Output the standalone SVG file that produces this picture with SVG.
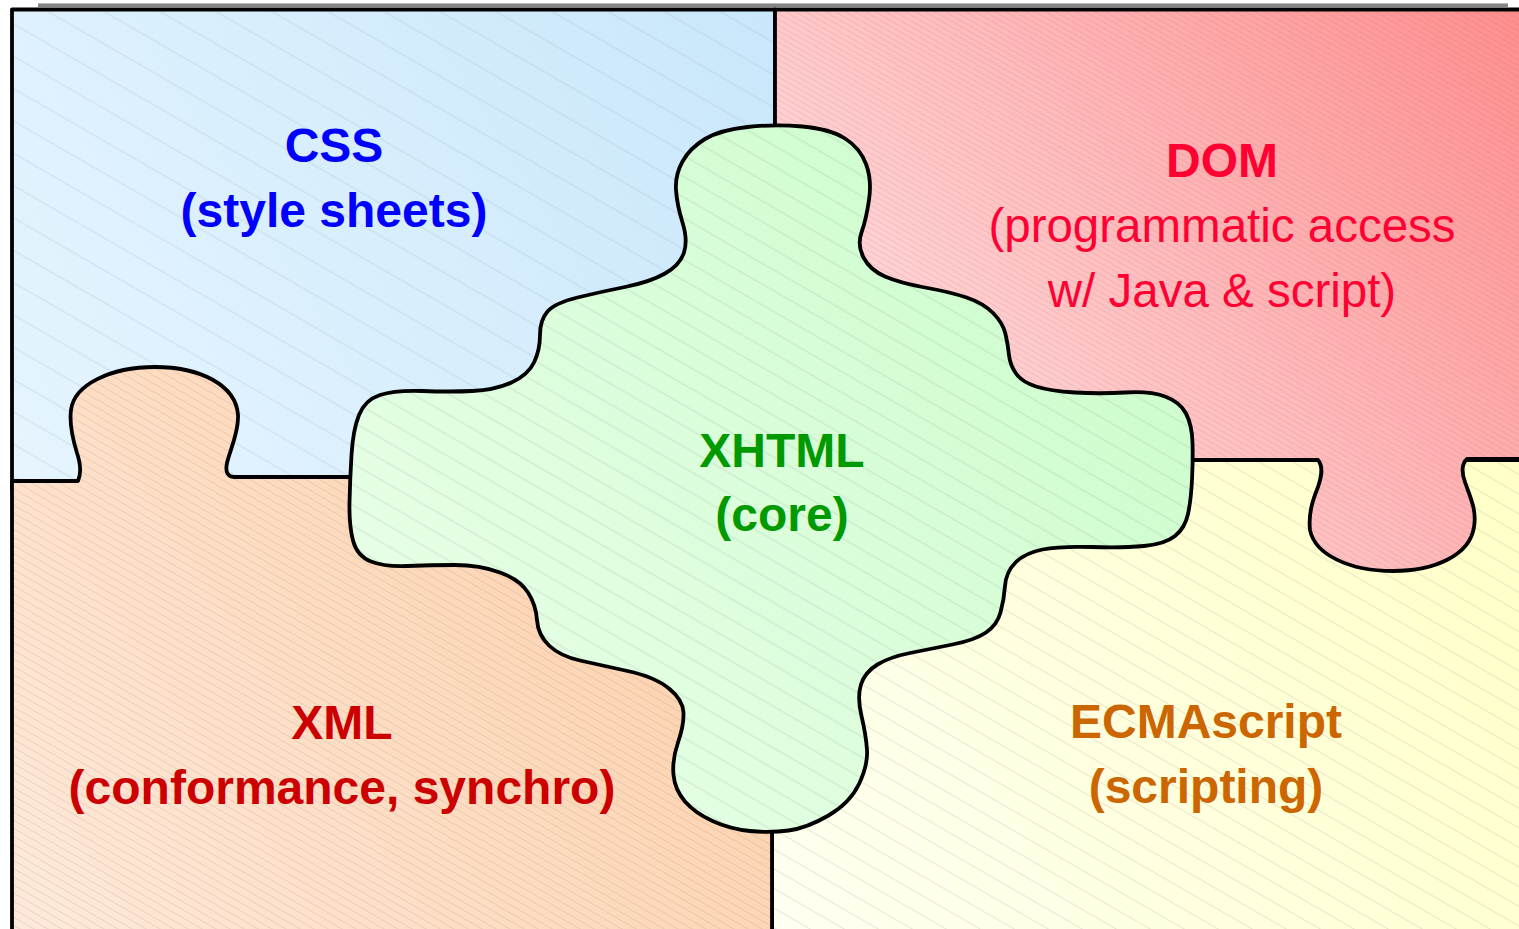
<svg xmlns="http://www.w3.org/2000/svg" width="1519" height="929" viewBox="0 0 1519 929">
<style>
  .edge{fill:none;stroke:#000;stroke-width:3.8;stroke-linejoin:round;stroke-linecap:round}
  .lbl{font-family:"Liberation Sans",Arial,Helvetica,sans-serif;font-size:47.5px;text-anchor:middle}
  .bold{font-weight:bold;font-size:48px}
</style>
<defs>
  <!-- piece fills: soft diagonal gradients -->
  <linearGradient id="g-blue" gradientUnits="userSpaceOnUse" x1="12" y1="480" x2="775" y2="10">
    <stop offset="0" stop-color="#e6f5fe"/><stop offset="1" stop-color="#c9e7fb"/>
  </linearGradient>
  <linearGradient id="g-red" gradientUnits="userSpaceOnUse" x1="900" y1="520" x2="1519" y2="10">
    <stop offset="0" stop-color="#ffe0e2"/><stop offset="1" stop-color="#ff8e8e"/>
  </linearGradient>
  <linearGradient id="g-orange" gradientUnits="userSpaceOnUse" x1="12" y1="929" x2="772" y2="420">
    <stop offset="0" stop-color="#fee9da"/><stop offset="1" stop-color="#fccda5"/>
  </linearGradient>
  <linearGradient id="g-yellow" gradientUnits="userSpaceOnUse" x1="772" y1="929" x2="1519" y2="460">
    <stop offset="0" stop-color="#fffff2"/><stop offset="1" stop-color="#ffffc6"/>
  </linearGradient>
  <linearGradient id="g-green" gradientUnits="userSpaceOnUse" x1="349" y1="833" x2="1193" y2="124">
    <stop offset="0" stop-color="#ecffec"/><stop offset="1" stop-color="#c8fcc8"/>
  </linearGradient>

  <!-- fine diagonal hatching, one density per piece -->
  <pattern id="h-blue" patternUnits="userSpaceOnUse" width="28" height="28" patternTransform="rotate(30)">
    <line x1="0" y1="14" x2="28" y2="14" stroke="#7f8f9c" stroke-opacity="0.28" stroke-width="0.8"/>
  </pattern>
  <pattern id="h-red" patternUnits="userSpaceOnUse" width="5" height="5" patternTransform="rotate(30)">
    <line x1="0" y1="2.5" x2="5" y2="2.5" stroke="#a06060" stroke-opacity="0.22" stroke-width="0.7"/>
  </pattern>
  <pattern id="h-orange" patternUnits="userSpaceOnUse" width="7" height="7" patternTransform="rotate(30)">
    <line x1="0" y1="3.5" x2="7" y2="3.5" stroke="#8a7a70" stroke-opacity="0.24" stroke-width="0.7"/>
  </pattern>
  <pattern id="h-yellow" patternUnits="userSpaceOnUse" width="17" height="17" patternTransform="rotate(30)">
    <line x1="0" y1="8.5" x2="17" y2="8.5" stroke="#8a8a80" stroke-opacity="0.26" stroke-width="0.8"/>
  </pattern>
  <pattern id="h-green" patternUnits="userSpaceOnUse" width="18" height="18" patternTransform="rotate(30)">
    <line x1="0" y1="9" x2="18" y2="9" stroke="#708070" stroke-opacity="0.26" stroke-width="0.8"/>
  </pattern>

  <!-- piece outlines -->
  <path id="p-blue" d="M12,9.5 L775,9.5 L775,490 L12,490 Z"/>
  <path id="p-yellow" d="M1000,460 L1530,460 L1530,935 L772,935 L772,700 Z"/>
  <path id="p-red" d="M775,9.5 L1530,9.5 L1530,459 L1467,459 C1461,464 1462,474 1465,482 C1470,497 1477,510 1474,527 C1470,555 1435,571 1393,571 C1350,571 1315,555 1310,530 C1308,512 1314,497 1318,487 C1321,478 1324,467 1318,460 L1000,460 L775,300 Z"/>
  <path id="p-orange" d="M12,481 L78,481 C82,472 80,462 77,453 C73,440 69,425 71,410 C74,385 110,367 155,367 C200,367 236,385 238,415 C239,432 230,450 227,463 C225,472 228,477 234,477 L352,477 L600,477 L772,700 L772,935 L12,935 Z"/>
  <path id="p-green" d="M747.5,127 Q775,124 802.5,126.5 Q830,129 845,138.5 Q860,148 866,164 Q872,180 869,200 Q866,220 861.5,232.5 Q857,245 863.5,257.5 Q870,270 885,276.5 Q900,283 925,287.5 Q950,292 966.5,297.5 Q983,303 993,313 Q1003,323 1005.5,334 Q1008,345 1009,355 Q1010,365 1016,373.5 Q1022,382 1036,386.5 Q1050,391 1075,392.5 Q1100,394 1125,392.5 Q1150,391 1165,396.5 Q1180,402 1186,413.5 Q1192,425 1192.5,442.5 Q1193,460 1192,480 Q1191,500 1188,514 Q1185,528 1175,536 Q1165,544 1144,546 Q1123,548 1091.5,547 Q1060,546 1042.5,549.5 Q1025,553 1015.5,562.5 Q1006,572 1005,586 Q1004,600 1000.5,612.5 Q997,625 986,632.5 Q975,640 952.5,644.5 Q930,649 910,653 Q890,657 877.5,664.5 Q865,672 861,684.5 Q857,697 861.5,716 Q866,735 867,750 Q868,765 859,784 Q850,803 828.5,815.5 Q807,828 788.5,830.5 Q770,833 750,831 Q730,829 712.5,821 Q695,813 685,801.5 Q675,790 673.5,775 Q672,760 678,742.5 Q684,725 683.5,712.5 Q683,700 669,688.5 Q655,677 627.5,671 Q600,665 580,660.5 Q560,656 549,645.5 Q538,635 537,620 Q536,605 528,592.5 Q520,580 500,572.5 Q480,565 455,565 Q430,565 407.5,566 Q385,567 371,561.5 Q357,556 353,540.5 Q349,525 349.5,502.5 Q350,480 351.5,455 Q353,430 359,415 Q365,400 380,395 Q395,390 422.5,391 Q450,392 472.5,391 Q495,390 511.5,382.5 Q528,375 534,362.5 Q540,350 540,335 Q540,320 547.5,311.5 Q555,303 577.5,297.5 Q600,292 625,287 Q650,282 665,273.5 Q680,265 684,252.5 Q688,240 682.5,222.5 Q677,205 676,190 Q675,175 682.5,161.5 Q690,148 705,139 Q720,130 747.5,127 Z"/>
</defs>

<rect x="0" y="0" width="1519" height="929" fill="#ffffff"/>

<!-- shadow bar along the top of the board -->
<g id="frame">
  <rect x="38" y="3" width="1470" height="4" fill="#858585"/>
  <rect x="38" y="3" width="1470" height="1" fill="#b8b8b8"/>
  <line x1="12" y1="927.5" x2="1519" y2="927.5" stroke="#c4c4c4" stroke-width="1"/>
</g>

<g id="css">
  <use href="#p-blue" fill="url(#g-blue)"/>
  <use href="#p-blue" fill="url(#h-blue)"/>
  <use href="#p-blue" class="edge"/>
  <text class="lbl bold" x="334" y="162" fill="#0000ff">CSS</text>
  <text class="lbl bold" x="334" y="227" fill="#0000ff">(style sheets)</text>
</g>

<g id="ecmascript">
  <use href="#p-yellow" fill="url(#g-yellow)"/>
  <use href="#p-yellow" fill="url(#h-yellow)"/>
  <use href="#p-yellow" class="edge"/>
  <text class="lbl bold" x="1206" y="738" fill="#cc6600">ECMAscript</text>
  <text class="lbl bold" x="1206" y="803" fill="#cc6600">(scripting)</text>
</g>

<g id="dom">
  <use href="#p-red" fill="url(#g-red)"/>
  <use href="#p-red" fill="url(#h-red)"/>
  <use href="#p-red" class="edge"/>
  <text class="lbl bold" x="1222" y="177" fill="#ff0033">DOM</text>
  <text class="lbl" x="1222" y="242" fill="#ff0033">(programmatic access</text>
  <text class="lbl" x="1222" y="307" fill="#ff0033">w/ Java &amp; script)</text>
</g>

<g id="xml">
  <use href="#p-orange" fill="url(#g-orange)"/>
  <use href="#p-orange" fill="url(#h-orange)"/>
  <use href="#p-orange" class="edge"/>
  <text class="lbl bold" x="342" y="739" fill="#cc0000">XML</text>
  <text class="lbl bold" x="342" y="804" fill="#cc0000">(conformance, synchro)</text>
</g>

<g id="xhtml">
  <use href="#p-green" fill="url(#g-green)"/>
  <use href="#p-green" fill="url(#h-green)"/>
  <use href="#p-green" class="edge"/>
  <text class="lbl bold" x="782" y="467" fill="#009900">XHTML</text>
  <text class="lbl bold" x="782" y="531" fill="#009900">(core)</text>
</g>

<g id="connectors"></g>
</svg>
